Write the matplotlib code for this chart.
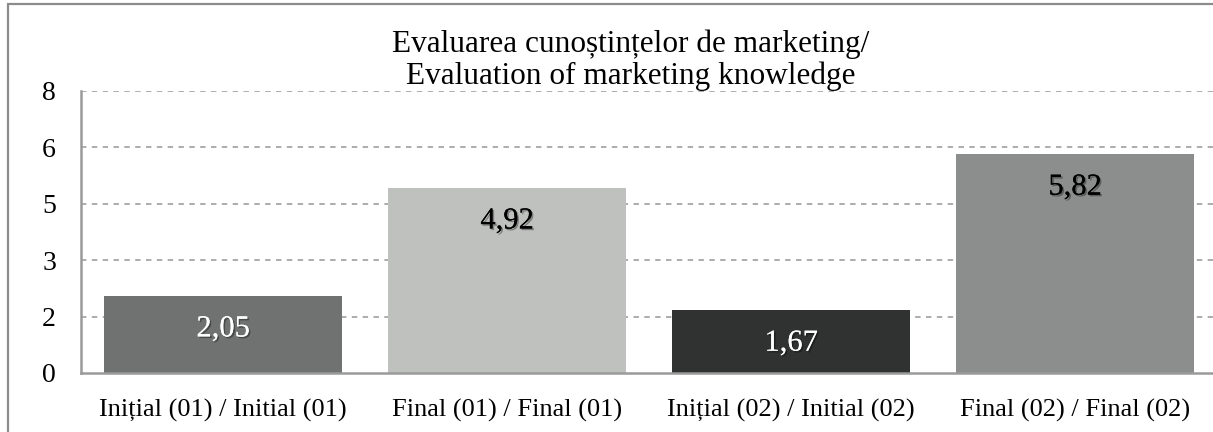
import matplotlib.pyplot as plt
from matplotlib.patches import Rectangle
import matplotlib.patheffects as pe

# data
categories = ['Inițial (01) / Initial (01)', 'Final (01) / Final (01)',
              'Inițial (02) / Initial (02)', 'Final (02) / Final (02)']
values = [2.05, 4.92, 1.67, 5.82]
value_labels = ['2,05', '4,92', '1,67', '5,82']
ytick_values = [0, 1.5, 3, 4.5, 6, 7.5]
ytick_labels = ['0', '2', '3', '5', '6', '8']
title = 'Evaluarea cunoștințelor de marketing/\nEvaluation of marketing knowledge'

bar_colors = ['#6f7270', '#bfc1bf', '#2f3231', '#8b8e8c']
text_colors = ['white', 'black', 'white', 'black']

plt.rcParams['font.family'] = ['Liberation Serif', 'DejaVu Serif']

W, H = 1213, 432
fig = plt.figure(figsize=(W / 100, H / 100), dpi=100)

# outer chart border (cropped on right/bottom)
fig.patches.append(Rectangle((8 / W, -0.1), 1.2, (428 / H) + 0.1,
                             transform=fig.transFigure, fill=False,
                             edgecolor='#8c8c8c', linewidth=1.6))

ax = fig.add_axes([81 / W, (H - 373) / H, 1136 / W, (373 - 91) / H])
x = range(len(categories))
ax.bar(x, values, width=0.84, color=bar_colors, zorder=2)
ax.set_xlim(-0.5, 3.5)
ax.set_ylim(0, 7.5)
ax.set_yticks(ytick_values)
ax.set_yticklabels(ytick_labels, fontsize=20)
ax.set_xticks(list(x))
ax.set_xticklabels(categories, fontsize=19)
ax.tick_params(axis='y', length=0, pad=18)
ax.tick_params(axis='x', length=0, pad=19)

for yv in ytick_values[1:]:
    ax.axhline(yv, color='#a6a6a6', linestyle=(0, (3, 3)), linewidth=1.3, zorder=1)

for s in ['top', 'right']:
    ax.spines[s].set_visible(False)
for s in ['left', 'bottom']:
    ax.spines[s].set_color('#9a9a9a')
    ax.spines[s].set_linewidth(1.8)
ax.spines['bottom'].set_zorder(3)

for i, (v, lab) in enumerate(zip(values, value_labels)):
    ax.annotate(lab, (i, v), xytext=(0, -33), textcoords='offset pixels',
                ha='center', va='center', fontsize=22, color=text_colors[i],
                zorder=4,
                path_effects=[pe.withSimplePatchShadow(offset=(1.2, -1.2),
                                                       shadow_rgbFace='black',
                                                       alpha=0.35),
                              pe.Normal()])

fig.text(631 / W, 1 - 60 / H, title, ha='center', va='center',
         fontsize=22.5, linespacing=1.12)

fig.savefig('out.png', dpi=100)
